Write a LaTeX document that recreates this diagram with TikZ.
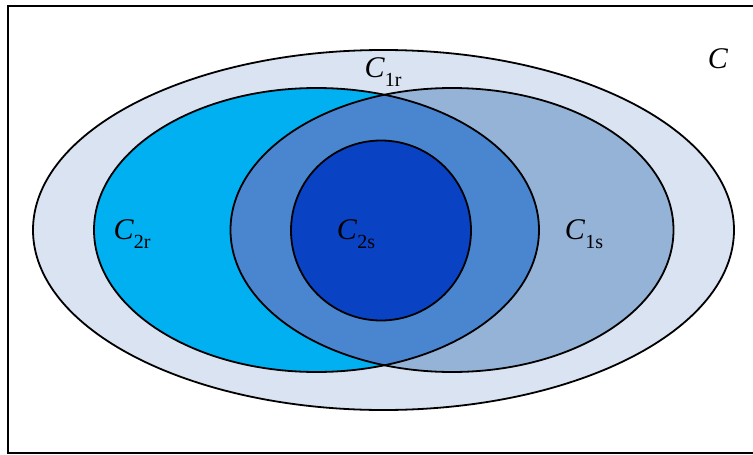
\documentclass[tikz,border=0pt]{standalone}
\usepackage{fontspec}
\setmainfont{Liberation Serif}
\definecolor{outerc}{HTML}{DAE3F1}
\definecolor{cyanc}{HTML}{00B0F0}
\definecolor{rightc}{HTML}{95B3D7}
\definecolor{lensc}{HTML}{4A85D0}
\definecolor{innerc}{HTML}{0A42C4}
\newcommand{\lbl}[2]{{\fontsize{30}{31}\selectfont\textit{C}\raisebox{-0.28em}{\fontsize{20}{20}\selectfont #2}}}
\begin{document}
\begin{tikzpicture}[x=1pt,y=-1pt,
  outline/.style={draw=black,line width=1.8pt},
  lbltext/.style={inner sep=0pt,text=black}]
\useasboundingbox (0,0) rectangle (753,455);
\fill[white] (0,0) rectangle (753,455);
% frame
\coordinate (ftr) at (760,6);
\coordinate (ftl) at (8,6);
\coordinate (fbl) at (8,453);
\coordinate (fbr) at (760,453);
\draw[line width=2.2pt] (ftr) -- (ftl) -- (fbl) -- (fbr);
% outer ellipse C
\draw[outline,fill=outerc] (383.5,230) ellipse [x radius=350.5,y radius=180];
% left and right ellipses
\fill[cyanc] (316.5,230) ellipse [x radius=222.5,y radius=142];
\fill[rightc] (452,230) ellipse [x radius=221.5,y radius=142];
\begin{scope}
  \clip (316.5,230) ellipse [x radius=222.5,y radius=142];
  \fill[lensc] (452,230) ellipse [x radius=221.5,y radius=142];
\end{scope}
\draw[outline] (316.5,230) ellipse [x radius=222.5,y radius=142];
\draw[outline] (452,230) ellipse [x radius=221.5,y radius=142];
% inner circle
\draw[outline,fill=innerc] (381,230.5) circle [radius=90];
% labels
\node[lbltext] (c1r) at (383,72) {\lbl{C}{1r}};
\node[lbltext] (c) at (718,63) {\lbl{C}{}};
\node[lbltext] (c2r) at (132,234) {\lbl{C}{2r}};
\node[lbltext] (c2s) at (356,234) {\lbl{C}{2s}};
\node[lbltext] (c1s) at (584,234) {\lbl{C}{1s}};
\end{tikzpicture}
\end{document}
